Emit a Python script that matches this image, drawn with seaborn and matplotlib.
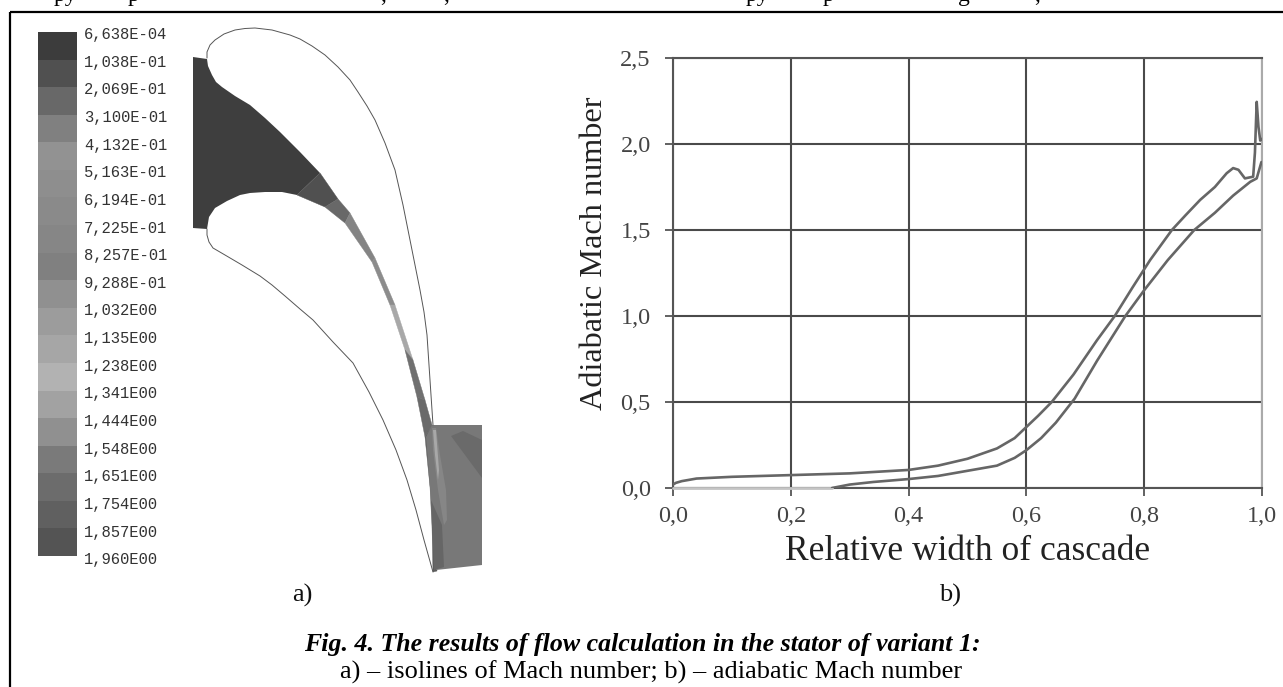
"""
plot.py
Fig. 4 - flow calculation in the stator: isoline panel (a) and Mach curves (b).
"""

import matplotlib
matplotlib.use("Agg")
import matplotlib.pyplot as plt
from matplotlib.colors import ListedColormap
from matplotlib.ticker import FuncFormatter
import numpy as np
import pandas as pd
import seaborn as sns

W, H = 1283, 687

# ── panel b: adiabatic Mach number curves ─────────
upper_x = [0.0, 0.005, 0.015, 0.04, 0.1, 0.2, 0.3, 0.4, 0.45, 0.5, 0.55, 0.58, 0.6, 0.62, 0.643, 0.68, 0.72, 0.75,
           0.78, 0.81, 0.847, 0.87, 0.895, 0.92, 0.94, 0.951, 0.96, 0.971, 0.985, 0.988, 0.991, 0.994, 0.997, 1.0]
upper_y = [0.02, 0.03, 0.04, 0.055, 0.065, 0.075, 0.085, 0.105, 0.13, 0.17, 0.23, 0.29, 0.355, 0.42, 0.5, 0.66, 0.86, 1.0,
           1.165, 1.325, 1.5, 1.585, 1.675, 1.75, 1.83, 1.86, 1.85, 1.8, 1.81, 1.95, 2.245, 2.1, 2.02, 2.03]
lower_x = [0.27, 0.3, 0.34, 0.4, 0.45, 0.5, 0.55, 0.58, 0.6, 0.625, 0.65, 0.682, 0.72, 0.768, 0.8,
           0.84, 0.885, 0.92, 0.951, 0.98, 0.991, 0.999]
lower_y = [0.0, 0.02, 0.035, 0.052, 0.07, 0.1, 0.13, 0.175, 0.22, 0.29, 0.38, 0.52, 0.74, 1.0, 1.15,
           1.325, 1.5, 1.6, 1.7, 1.78, 1.8, 1.895]
flat_x = [0.0, 0.27]
flat_y = [0.0, 0.0]
x_ticks = [0.0, 0.2, 0.4, 0.6, 0.8, 1.0]
y_ticks = [0.0, 0.5, 1.0, 1.5, 2.0, 2.5]

# ── panel a: legend ───────────────────────────────
level_labels = ["6,638E-04", "1,038E-01", "2,069E-01", "3,100E-01", "4,132E-01", "5,163E-01", "6,194E-01",
                "7,225E-01", "8,257E-01", "9,288E-01", "1,032E00", "1,135E00", "1,238E00", "1,341E00",
                "1,444E00", "1,548E00", "1,651E00", "1,754E00", "1,857E00", "1,960E00"]
band_colors = ["#3c3c3c", "#505050", "#686868", "#808080", "#929292", "#8e8e8e", "#8a8a8a", "#868686", "#808080",
               "#909090", "#9c9c9c", "#a6a6a6", "#b2b2b2", "#a2a2a2", "#909090", "#7a7a7a", "#6c6c6c", "#606060",
               "#545454"]

# ── panel a: blade outlines, picture pixels ───────
upper_blade = [(207, 58), (207, 52), (210, 45), (215, 40), (224, 34), (235, 30), (245, 28.5), (255, 28), (272, 30),
               (290, 35), (300, 39), (312, 46), (325, 55), (338, 67), (350, 80), (358, 92), (367, 106), (375, 120),
               (385, 143), (395, 170), (403, 205), (410, 240), (416, 270), (420, 290), (424, 312), (427, 335),
               (430, 380), (433, 425)]
lower_blade = [(207, 229), (207, 235), (209, 242), (213, 248), (225, 255), (242, 265), (260, 276), (272, 285),
               (285, 296), (300, 309), (313, 320), (333, 342), (353, 363), (369, 392), (383, 420), (396, 450),
               (407, 480), (416, 510), (424, 540), (433, 572)]
suction_side = [(207, 59), (208, 66), (212, 75), (216, 82), (222, 87), (235, 96), (250, 105), (265, 118), (280, 132),
                (300, 152), (320, 173)]
pressure_side = [(297, 195), (282, 192), (265, 192), (250, 193), (240, 195), (227, 201), (215, 208), (209, 217),
                 (207, 229), (193, 228), (193, 57)]
passage_left = [(297, 195), (325, 207), (345, 223), (372, 262), (390, 305), (405, 350), (417, 397), (425, 437),
                (430, 487), (432, 527), (433, 572)]
passage_right = [(320, 173), (338, 199), (350, 213), (375, 258), (395, 305), (413, 360), (425, 400), (432, 425),
                 (434, 487), (436, 527), (437, 571)]
passage_colors = ["#505050", "#686868", "#848484", "#8c8c8c", "#a8a8a8", "#707070", "#6a6a6a", "#606060",
                  "#6c6c6c", "#5c5c5c"]
exit_block = [(432, 425), (482, 425), (482, 565), (436, 570), (430, 487), (426, 437)]
exit_dark = [(451, 436), (463, 431), (482, 440), (482, 478)]
exit_light = [(432, 428), (436, 428), (440, 455), (446, 490), (447, 520), (444, 525), (438, 490), (433, 450)]
exit_streak = [(433, 430), (436, 430), (439, 470), (438, 480), (435, 455)]
exit_wake = [(431, 500), (442, 525), (444, 567), (434, 570)]

# ── text pieces ───────────────────────────────────
cut_text = [(54, "py"), (128, "p"), (380, ","), (443, ","), (746, "py"), (823, "p"), (958, "g"), (1034, ",")]

sns.set_theme(style="white")
plt.rcParams["font.family"] = ["Liberation Serif", "DejaVu Serif"]


def axes_box(fig, left, top, right, bottom):
    return fig.add_axes([left / W, 1 - bottom / H, (right - left) / W, (bottom - top) / H])


def comma(v, _):
    return f"{v:.1f}".replace(".", ",")


def draw_legend(fig, page):
    ax = axes_box(fig, 38, 32, 77, 556)
    cells = pd.DataFrame({"level": np.arange(len(band_colors))})
    sns.heatmap(cells, ax=ax, cmap=ListedColormap(band_colors), cbar=False, xticklabels=False, yticklabels=False)
    ax.set_xlabel("")
    ax.set_ylabel("")
    for i, label in enumerate(level_labels):
        page.text(84, 34.5 + i * 27.65, label, family="Liberation Mono", fontsize=11.2, color="#333333",
                  va="center", ha="left")


def draw_blades(page):
    page.fill(*zip(*(suction_side + pressure_side)), color="#3e3e3e", lw=0)
    for i, shade in enumerate(passage_colors):
        quad = [passage_left[i], passage_right[i], passage_right[i + 1], passage_left[i + 1]]
        page.fill(*zip(*quad), color=shade, lw=0.3)
    page.fill(*zip(*exit_block), color="#787878", lw=0)
    page.fill(*zip(*exit_dark), color="#6a6a6a", lw=0)
    page.fill(*zip(*exit_light), color="#868686", lw=0)
    page.fill(*zip(*exit_streak), color="#a8a8a8", lw=0)
    page.fill(*zip(*exit_wake), color="#666666", lw=0)
    page.plot(*zip(*upper_blade), color="#555555", lw=0.7)
    page.plot(*zip(*lower_blade), color="#555555", lw=0.7)


def draw_curves(fig):
    ax = axes_box(fig, 673, 58, 1262, 488)
    sns.lineplot(x=flat_x, y=flat_y, ax=ax, color="#c4c4c4", lw=2, zorder=4, clip_on=False)
    sns.lineplot(x=upper_x, y=upper_y, ax=ax, color="#666666", lw=1.9, estimator=None, sort=False, zorder=5)
    sns.lineplot(x=lower_x, y=lower_y, ax=ax, color="#666666", lw=1.9, estimator=None, sort=False, zorder=5)
    ax.set_xlim(0, 1)
    ax.set_ylim(0, 2.5)
    ax.set_xticks(x_ticks)
    ax.set_yticks(y_ticks)
    ax.xaxis.set_major_formatter(FuncFormatter(comma))
    ax.yaxis.set_major_formatter(FuncFormatter(comma))
    ax.grid(True, color="#4a4a4a", lw=1.5)
    ax.set_axisbelow(True)
    ax.tick_params(axis="x", length=6, width=1.3, color="#555555", labelsize=17.5, labelcolor="#444444",
                   bottom=True, pad=7)
    ax.tick_params(axis="y", length=6, width=1.3, color="#555555", labelsize=17.5, labelcolor="#444444",
                   left=True, pad=10)
    for side in ax.spines:
        ax.spines[side].set_color("#555555")
        ax.spines[side].set_linewidth(1.5)
    ax.spines["right"].set_color("#aaaaaa")
    ax.set_xlabel("Relative width of cascade", fontsize=25.5, color="#222222", va="center")
    ax.set_ylabel("Adiabatic Mach number", fontsize=23.2, color="#222222", va="center")
    ax.xaxis.set_label_coords(0.5, (488 - 551) / 430)
    ax.yaxis.set_label_coords((594 - 673) / 589, (488 - 253) / 430)


def main():
    fig = plt.figure(figsize=(W / 100, H / 100), dpi=100, facecolor="white")
    page = fig.add_axes([0, 0, 1, 1], zorder=0)
    page.set_xlim(0, W)
    page.set_ylim(H, 0)
    page.axis("off")

    # frame: only the top and left rules are on the page
    page.plot([10, W], [12, 12], color="black", lw=1.6, solid_capstyle="butt")
    page.plot([10, 10], [12, H], color="black", lw=1.6, solid_capstyle="butt")
    for x, piece in cut_text:
        page.text(x, 1, piece, fontsize=17, color="black", ha="left", va="baseline", clip_on=True)

    draw_legend(fig, page)
    draw_blades(page)
    draw_curves(fig)

    page.text(302, 595, "a)", fontsize=19, color="#111111", ha="center", va="center")
    page.text(950, 595, "b)", fontsize=19, color="#111111", ha="center", va="center")
    page.text(642, 644, "Fig. 4. The results of flow calculation in the stator of variant 1:", fontsize=18.6,
              fontweight="bold", fontstyle="italic", color="black", ha="center", va="center")
    page.text(651, 672, "a) – isolines of Mach number; b) – adiabatic Mach number", fontsize=19,
              color="black", ha="center", va="center")

    fig.savefig("out.png", dpi=100)
    plt.close(fig)


if __name__ == "__main__":
    main()
